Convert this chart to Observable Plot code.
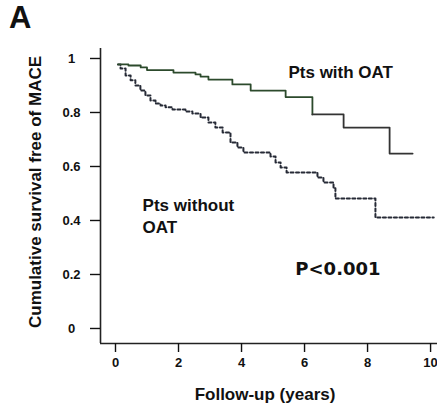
<!DOCTYPE html>
<html>
<head>
<meta charset="utf-8">
<script src="https://cdn.jsdelivr.net/npm/d3@7"></script>
<script src="https://cdn.jsdelivr.net/npm/@observablehq/plot@0.6"></script>
<style>
  html, body { margin: 0; padding: 0; background: #fff; }
  #wrap { position: relative; width: 437px; height: 408px; }
  #panel { position: absolute; left: 9px; top: 0px; font: bold 31px "Liberation Sans", Arial, sans-serif; color: #111; }
</style>
</head>
<body>
<div id="wrap"><div id="panel">A</div></div>
<script>
// Kaplan–Meier estimates: follow-up time (years) at each step and survival after it
const withOatTime = [0.08, 0.41, 0.8, 1.0, 1.84, 2.54, 2.7, 2.95, 3.71, 4.29, 5.4, 6.25, 7.24, 8.7, 9.43];
const withOatSurv = [0.978, 0.974, 0.967, 0.957, 0.948, 0.941, 0.933, 0.922, 0.904, 0.881, 0.857, 0.793, 0.744, 0.648, 0.648];

const withoutOatTime = [0.08, 0.16, 0.32, 0.48, 0.63, 0.79, 0.95, 1.11, 1.27, 1.43, 1.59, 1.81, 2.22, 2.44, 2.7, 2.95, 3.17, 3.4, 3.65, 3.87, 4.06, 4.92, 5.08, 5.24, 5.43, 6.41, 6.6, 6.92, 6.98, 8.25, 10.1];
const withoutOatSurv = [0.978, 0.963, 0.937, 0.919, 0.9, 0.881, 0.863, 0.844, 0.833, 0.826, 0.819, 0.811, 0.804, 0.796, 0.781, 0.763, 0.744, 0.726, 0.689, 0.67, 0.652, 0.637, 0.615, 0.596, 0.578, 0.559, 0.541, 0.519, 0.481, 0.411, 0.411];

const xTicks = [0, 2, 4, 6, 8, 10];
const yTicks = [0, 0.2, 0.4, 0.6, 0.8, 1];

const withOat = withOatTime.map((t, i) => ({t, s: withOatSurv[i]}));
const withoutOat = withoutOatTime.map((t, i) => ({t, s: withoutOatSurv[i]}));
// early part of the OAT curve is drawn in dark green, the tail in dark grey
const withOatEarly = withOat.filter(d => d.t <= 6.25);
const withOatLate = withOat.filter(d => d.t >= 6.25);

const xMin = -0.476, xMax = 10.22;
const yMin = -0.0556, yMax = 1.037;
const sans = "'Liberation Sans', Arial, sans-serif";

const chart = Plot.plot({
  width: 437,
  height: 408,
  marginLeft: 100,
  marginRight: 0,
  marginTop: 48,
  marginBottom: 65,
  x: {domain: [xMin, xMax]},
  y: {domain: [yMin, yMax]},
  style: {fontFamily: sans, background: "transparent", color: "#111"},
  marks: [
    Plot.ruleX([xMin], {stroke: "#222", strokeWidth: 1.6}),
    Plot.ruleY([yMin], {stroke: "#222", strokeWidth: 1.6}),
    Plot.axisY({ticks: yTicks, tickFormat: d => String(d), tickSize: 10, tickPadding: 19, textAnchor: "middle",
      fontSize: 13, fontWeight: "bold", strokeWidth: 1.4, label: null}),
    Plot.axisX({ticks: xTicks, tickFormat: d => String(d), tickSize: 9, tickPadding: 5,
      fontSize: 13, fontWeight: "bold", strokeWidth: 1.4, label: null}),
    Plot.text(["Cumulative survival free of MACE"], {frameAnchor: "left", rotate: -90, textAnchor: "middle",
      lineAnchor: "middle", dx: -65, dy: -4, fontSize: 17, fontWeight: "bold"}),
    Plot.text(["Follow-up (years)"], {frameAnchor: "bottom", textAnchor: "middle", lineAnchor: "middle",
      dx: -4, dy: 51, fontSize: 17, fontWeight: "bold"}),
    Plot.lineY(withoutOat, {x: "t", y: "s", curve: "step-after", stroke: "#262a36", strokeWidth: 2,
      strokeDasharray: "3,2.5"}),
    Plot.lineY(withOatEarly, {x: "t", y: "s", curve: "step-after", stroke: "#2c4a2c", strokeWidth: 1.8}),
    Plot.lineY(withOatLate, {x: "t", y: "s", curve: "step-after", stroke: "#333", strokeWidth: 1.8}),
    Plot.text([{t: 5.49, s: 0.948, label: "Pts with OAT"}], {x: "t", y: "s", text: "label", textAnchor: "start",
      fontSize: 17, fontWeight: "bold"}),
    Plot.text([{t: 0.86, s: 0.42, label: "Pts without\nOAT"}], {x: "t", y: "s", text: "label", textAnchor: "start",
      lineHeight: 1.25, fontSize: 17, fontWeight: "bold"}),
    Plot.text([{t: 7.06, s: 0.22, label: "P<0.001"}], {x: "t", y: "s", text: "label",
      fontFamily: "'DejaVu Sans', sans-serif", fontSize: 18, fontWeight: "bold"})
  ]
});
chart.style.position = "absolute";
chart.style.left = "0";
chart.style.top = "0";
document.getElementById("wrap").prepend(chart);
</script>
</body>
</html>
